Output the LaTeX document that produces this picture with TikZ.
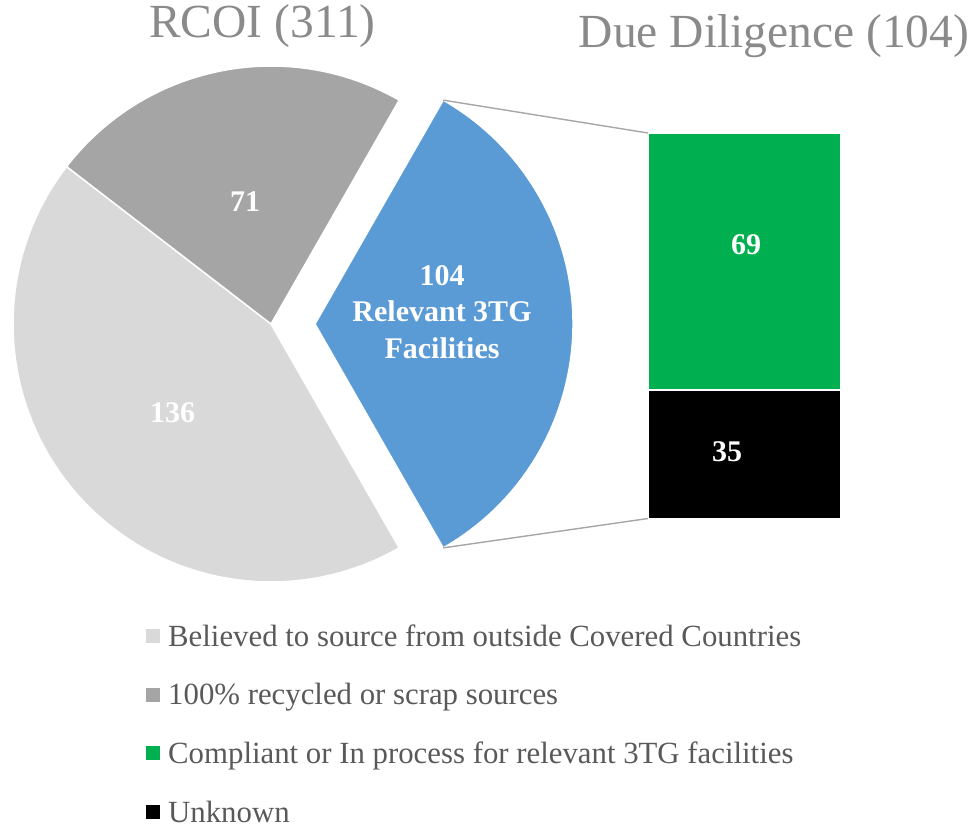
\documentclass[tikz,border=0pt]{standalone}
\usepackage{fontspec}
\setmainfont{Liberation Serif}
\usetikzlibrary{calc}
\definecolor{lgray}{HTML}{D9D9D9}
\definecolor{dgray}{HTML}{A5A5A5}
\definecolor{pieblue}{HTML}{5B9BD5}
\definecolor{bargreen}{HTML}{00B050}
\definecolor{titlegray}{HTML}{8A8A8A}
\definecolor{legtext}{HTML}{595959}
\definecolor{connline}{HTML}{A6A6A6}
\tikzset{
  slice/.style={draw=white, line width=1.5pt},
  slicelbl/.style={text=white, font=\bfseries\fontsize{30}{36.5}\selectfont, align=center, inner sep=0pt},
  titletext/.style={text=titlegray, font=\fontsize{47.5}{56}\selectfont, inner sep=0pt, anchor=base},
  barbox/.style={draw=white, line width=1pt, minimum width=192pt, inner sep=0pt, outer sep=0pt},
  conn/.style={draw=connline, line width=1.4pt},
  legsq/.style={minimum width=14pt, minimum height=14pt, inner sep=0pt},
  legtxt/.style={text=legtext, font=\fontsize{30.8}{36}\selectfont, inner sep=0pt, anchor=base west},
}
\begin{document}
\begin{tikzpicture}[x=1pt, y=1pt]
\useasboundingbox (0,0) rectangle (973,-827);
% titles
\node[titletext] (t1) at (262.5,-37) {RCOI (311)};
\node[titletext] (t2) at (774,-47) {Due Diligence (104)};
% pie
\coordinate (C) at (271,-324);
\coordinate (B) at (315,-324);
\fill[lgray, slice] (C) -- ($(C)+(142.4:258)$) arc[start angle=142.4, end angle=299.8, radius=258] -- cycle;
\fill[dgray, slice] (C) -- ($(C)+(60.2:258)$) arc[start angle=60.2, end angle=142.4, radius=258] -- cycle;
\fill[pieblue, slice] (B) -- ($(B)+(-60.2:258)$) arc[start angle=-60.2, end angle=60.2, radius=258] -- cycle;
\node[slicelbl] (l71) at (245,-202) {71};
\node[slicelbl] (l136) at (172.5,-413) {136};
\node[slicelbl] (l104) at (442,-312) {104\\Relevant 3TG\\Facilities};
% bar
\node[barbox, fill=bargreen, minimum height=256.5pt] (g) at (744,-261.25) {};
\node[barbox, fill=black, minimum height=128.5pt] (k) at (744,-454.25) {};
\node[slicelbl] (l69) at (746,-245) {69};
\node[slicelbl] (l35) at (727,-452) {35};
% connectors
\coordinate (bt) at ($(B)+(60.2:258)$);
\coordinate (bb) at ($(B)+(-60.2:258)$);
\draw[conn] (bt) -- (g.north west);
\draw[conn] (bb) -- (k.south west);
% legend
\node[legsq, fill=lgray] (s1) at (153,-636) {};
\node[legsq, fill=dgray] (s2) at (153,-694.7) {};
\node[legsq, fill=bargreen] (s3) at (153,-753.3) {};
\node[legsq, fill=black] (s4) at (153,-812) {};
\node[legtxt] (e1) at (168,-646) {Believed to source from outside Covered Countries};
\node[legtxt] (e2) at (168,-704.7) {100\% recycled or scrap sources};
\node[legtxt] (e3) at (168,-763.3) {Compliant or In process for relevant 3TG facilities};
\node[legtxt] (e4) at (168,-822) {Unknown};
\end{tikzpicture}
\end{document}
